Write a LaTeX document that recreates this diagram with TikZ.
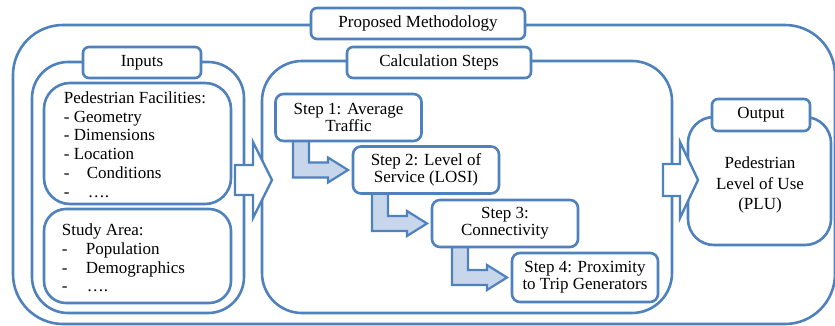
\documentclass[tikz,border=0pt]{standalone}
\usepackage{fontspec}
\setmainfont{Liberation Serif}
\usetikzlibrary{calc}
\definecolor{frameblue}{RGB}{79,129,189}
\definecolor{stepfill}{RGB}{200,214,236}

\begin{document}
\begin{tikzpicture}[x=1pt, y=-1pt,
    every node/.style={font=\fontsize{17}{18.8}\selectfont},
    frame/.style={draw=frameblue, line width=2.6pt, fill=white},
    tag/.style={frame, rounded corners=6pt, minimum height=31pt, inner sep=0pt},
    stepbox/.style={frame, rounded corners=8pt, minimum width=146pt, minimum height=47pt,
        align=center, inner sep=0pt, font=\fontsize{17}{17}\selectfont},
    fatarrow/.style={draw=frameblue, line width=2.4pt, fill=white},
    bendarrow/.style={draw=frameblue, line width=2.2pt, fill=stepfill},
    listtext/.style={anchor=west, align=left, inner sep=0pt}]

    \useasboundingbox (0,0) rectangle (835,326);

    % outer frame
    \node[frame, rounded corners=50pt, minimum width=822pt, minimum height=299pt] (method) at (424,174.5) {};
    \node[tag, minimum width=214pt] (methodtag) at (418,23.5) {Proposed Methodology};

    % inputs
    \node[frame, rounded corners=36pt, minimum width=212pt, minimum height=251pt] (inputs) at (138,187.5) {};
    \node[tag, minimum width=118pt] (inputstag) at (142,62.5) {Inputs};
    \node[frame, rounded corners=26pt, minimum width=187pt, minimum height=121pt] (facil) at (137.5,143.5) {};
    \node[frame, rounded corners=22pt, minimum width=187pt, minimum height=94pt] (area) at (137.5,256) {};

    \node[listtext] (faciltext) at ($(facil.west)+(21,1)$) {Pedestrian Facilities:\\
        - Geometry\\- Dimensions\\- Location\\
        \makebox[23pt][l]{-}Conditions\\\makebox[24pt][l]{-}….};
    \node[listtext] (areatext) at ($(area.west)+(19,2)$) {Study Area:\\
        \makebox[24pt][l]{-}Population\\\makebox[24pt][l]{-}Demographics\\
        \makebox[25pt][l]{-}….};

    % calculation steps
    \node[frame, rounded corners=40pt, minimum width=410pt, minimum height=252pt] (calc) at (467,187) {};
    \node[tag, minimum width=184pt] (calctag) at (439,62.5) {Calculation Steps};

    \coordinate (s1) at (293,138);
    \draw[bendarrow] (s1) -- ++(16,0) -- ($(s1 |- 0,170)+(16,-7.5)$) -- ($(s1 |- 0,170)+(35,-7.5)$)
        -- ++(0,-5) -- (348,170) -- ($(s1 |- 0,170)+(35,12.5)$) -- ++(0,-5) -- ($(s1 |- 0,170)+(0,7.5)$) -- cycle;
    \coordinate (s2) at (372,190);
    \draw[bendarrow] (s2) -- ++(16,0) -- ($(s2 |- 0,223.5)+(16,-7.5)$) -- ($(s2 |- 0,223.5)+(35,-7.5)$)
        -- ++(0,-5) -- (427,223.5) -- ($(s2 |- 0,223.5)+(35,12.5)$) -- ++(0,-5) -- ($(s2 |- 0,223.5)+(0,7.5)$) -- cycle;
    \coordinate (s3) at (452,244);
    \draw[bendarrow] (s3) -- ++(16,0) -- ($(s3 |- 0,277.5)+(16,-7.5)$) -- ($(s3 |- 0,277.5)+(35,-7.5)$)
        -- ++(0,-5) -- (507,277.5) -- ($(s3 |- 0,277.5)+(35,12.5)$) -- ++(0,-5) -- ($(s3 |- 0,277.5)+(0,7.5)$) -- cycle;

    \node[stepbox] (step1) at (348.5,117.5) {Step 1: Average\\Traffic};
    \node[stepbox] (step2) at (426,170) {Step 2: Level of\\Service (LOSI)};
    \node[stepbox] (step3) at (505,223.5) {Step 3:\\Connectivity};
    \node[stepbox, minimum height=49pt] (step4) at (585,277.5) {Step 4: Proximity\\to Trip Generators};

    % output
    \node[frame, rounded corners=26pt, minimum width=143pt, minimum height=128pt] (output) at (759.5,181) {};
    \node[tag, minimum width=98pt, minimum height=32pt] (outputtag) at (761,115) {Output};
    \node[align=center, font=\fontsize{17}{20.5}\selectfont] (plu) at (760,185) {Pedestrian\\Level of Use\\(PLU)};

    % block arrows between the frames
    \draw[fatarrow, shift={(235,180)}] (0,-15) -- (18,-15) -- (18,-38) -- (37,0)
        -- (18,38) -- (18,15) -- (0,15) -- cycle;
    \draw[fatarrow, shift={(663,180)}] (0,-16) -- (17,-16) -- (17,-38) -- (35,0)
        -- (17,38) -- (17,16) -- (0,16) -- cycle;
\end{tikzpicture}
\end{document}
